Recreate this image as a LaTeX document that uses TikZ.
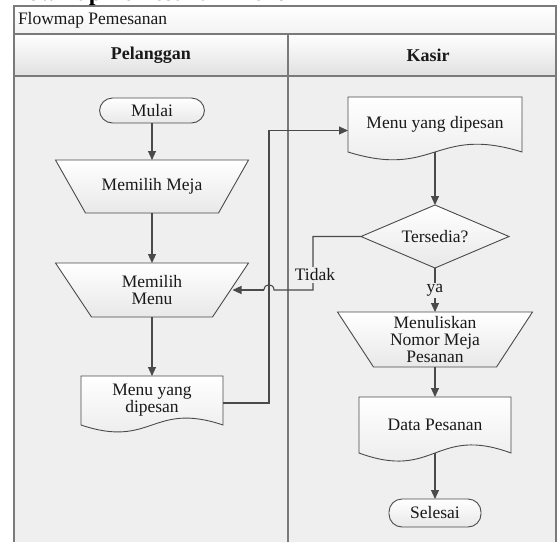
\documentclass[tikz,border=0pt]{standalone}
\usepackage{fontspec}
\setmainfont{Liberation Serif}
\usetikzlibrary{arrows.meta,calc}
\pgfdeclarelayer{lanes}
\pgfdeclarelayer{shapes}
\pgfsetlayers{lanes,shapes,main}
\definecolor{lanebg}{HTML}{EFEFEF}
\definecolor{linec}{HTML}{4A4A4A}
\definecolor{framec}{HTML}{7A7A7A}
\begin{document}
\begin{tikzpicture}[x=1pt,y=-1pt,
  txt/.style={font=\fontsize{17.5}{17}\selectfont, align=center, inner sep=0pt, outer sep=0pt, text=black!90},
  shapefill/.style={draw=linec, line width=0.9pt, top color=white, bottom color=black!9},
  term/.style={txt, shapefill, rounded corners=13pt},
  arr/.style={draw=linec, line width=1.1pt, -{Triangle[length=9pt,width=8pt]}},
  conn/.style={draw=linec, line width=1.1pt},
  lbl/.style={txt, fill=lanebg, inner sep=1.5pt},
  frame/.style={draw=framec, line width=1.6pt},
]
\useasboundingbox (0,0) rectangle (558,542);

% swimlane frame
\begin{pgfonlayer}{lanes}
  \fill[white] (0,0) rectangle (558,542);
  \path[top color=white, bottom color=black!5] (14,6) rectangle (556,34);
  \path[top color=white, bottom color=black!12] (14,34) rectangle (556,76);
  \fill[lanebg] (14,76) rectangle (556,542);
  \draw[frame] (14,542) -- (14,6) -- (556,6) -- (556,542);
  \draw[frame] (14,34) -- (556,34);
  \draw[frame] (14,76) -- (556,76);
  \draw[frame] (288,34) -- (288,542);
\end{pgfonlayer}

% clipped page title
\begin{scope}
  \clip (0,0) rectangle (558,5);
  \node[anchor=base west, inner sep=0pt, font=\fontsize{24}{24}\selectfont\bfseries] (pagetitle) at (6,0.5) {Flowmap Pemesanan Menu};
\end{scope}

\node[txt, anchor=west] (ttl) at (18,20) {Flowmap Pemesanan};
\node[txt, font={\fontsize{18}{16}\selectfont\bfseries}] (h1) at (151,55) {Pelanggan};
\node[txt, font={\fontsize{18}{16}\selectfont\bfseries}] (h2) at (428,55) {Kasir};

% nodes (Pelanggan)
\node[term, minimum width=105pt, minimum height=25pt] (mulai) at (152,110.5) {Mulai};
\node[txt, minimum width=193pt, minimum height=53pt] (meja) at (152,186.5) {Memilih Meja};
\node[txt, minimum width=193pt, minimum height=54pt] (menu) at (152,290) {Memilih\\Menu};
\node[txt, minimum width=142pt, minimum height=49pt] (ldoc) at (152,400.5) {Menu yang\\dipesan};

% nodes (Kasir)
\node[txt, minimum width=174pt, minimum height=55pt] (rdoc) at (435,124.5) {Menu yang dipesan};
\node[txt, minimum width=148pt, minimum height=63pt] (ters) at (435,236.5) {Tersedia?};
\node[txt, minimum width=195pt, minimum height=55pt] (nulis) at (435,339.5) {Menuliskan\\Nomor Meja\\Pesanan};
\node[txt, minimum width=152pt, minimum height=56pt] (data) at (435,425) {Data Pesanan};
\node[term, minimum width=92pt, minimum height=28pt] (selesai) at (435,513) {Selesai};

% shape outlines
\begin{pgfonlayer}{shapes}
  \path[shapefill] (meja.north west) -- (meja.north east) -- ($(meja.south east)+(-30,0)$) -- ($(meja.south west)+(30,0)$) -- cycle;
  \path[shapefill] (menu.north west) -- (menu.north east) -- ($(menu.south east)+(-36,0)$) -- ($(menu.south west)+(36,0)$) -- cycle;
  \path[shapefill] (nulis.north west) -- (nulis.north east) -- ($(nulis.south east)+(-36,0)$) -- ($(nulis.south west)+(36,0)$) -- cycle;
  \path[shapefill] (ters.north) -- (ters.east) -- (ters.south) -- (ters.west) -- cycle;
  \path[shapefill] (ldoc.north west) -- (ldoc.north east) -- (ldoc.south east) .. controls ($(ldoc.south)+(0,-24)$) and ($(ldoc.south)+(0,24)$) .. (ldoc.south west) -- cycle;
  \path[shapefill] (rdoc.north west) -- (rdoc.north east) -- (rdoc.south east) .. controls ($(rdoc.south)+(0,-27)$) and ($(rdoc.south)+(0,27)$) .. (rdoc.south west) -- cycle;
  \path[shapefill] (data.north west) -- (data.north east) -- (data.south east) .. controls ($(data.south)+(0,-28)$) and ($(data.south)+(0,28)$) .. (data.south west) -- cycle;
\end{pgfonlayer}

% helper coordinates
\coordinate (jx) at (269,0);
\coordinate (tx) at (313,0);
\coordinate (hopR) at (274,290);
\coordinate (hopL) at (264,290);

% connectors
\draw[arr] (mulai) -- (meja);
\draw[arr] (meja) -- (menu);
\draw[arr] (menu) -- (ldoc);
\draw[arr] ($(ldoc.east)+(0,2.5)$) -- ($(ldoc.east -| jx)+(0,2.5)$) -- ($(jx |- rdoc.west)+(0,6)$) -- ($(rdoc.west)+(0,6)$);
\draw[arr] (rdoc) -- (ters);
\draw[arr] (ters) -- node[lbl, pos=0.5] (ya) {ya} (nulis);
\draw[arr] (nulis) -- (data);
\draw[arr] (data) -- (selesai);
\draw[conn] (ters.west) -| (tx |- hopR) -- (hopR) .. controls ($(hopR)+(0,-7)$) and ($(hopL)+(0,-7)$) .. (hopL);
\draw[arr] (hopL) -- ($(menu.east)+(-16,0)$);
\node[lbl] (tidak) at (315,275) {Tidak};
\end{tikzpicture}
\end{document}
